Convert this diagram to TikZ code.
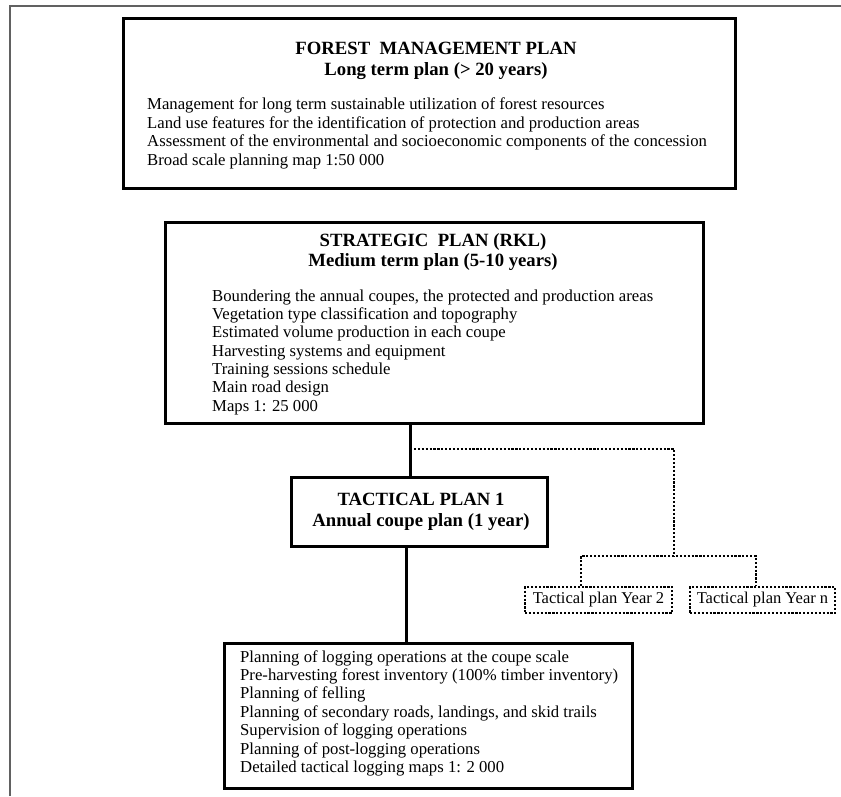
\documentclass[tikz,border=0pt]{standalone}
\usepackage{fontspec}
\setmainfont{Liberation Serif}
\begin{document}
\begin{tikzpicture}[x=1pt,y=-1pt,
  box/.style={draw, line width=3pt, inner sep=0pt},
  dotbox/.style={draw, line width=2.3pt, dash pattern=on 2.2pt off 1.7pt, inner sep=0pt,
    font=\fontsize{16.5}{18}\selectfont},
  conn/.style={line width=3pt},
  dotconn/.style={line width=2.3pt, dash pattern=on 2.2pt off 1.7pt},
  ttl/.style={anchor=base, inner sep=0pt},
  body/.style={font=\fontsize{16.7}{18.5}\selectfont, anchor=base west, inner sep=0pt},
  frame/.style={draw=black!62, line width=2pt}
]
\useasboundingbox (0,0) rectangle (841,796);
% outer frame
\coordinate (fa) at (10,796);
\coordinate (fb) at (10,6);
\coordinate (fc) at (841,6);
\draw[frame] (fa) -- (fb) -- (fc);

% boxes
\node[box, minimum width=612pt, minimum height=170pt] (fmp) at (429,103) {};
\node[box, minimum width=538pt, minimum height=201pt] (str) at (434,322.5) {};
\node[box, minimum width=256pt, minimum height=69pt] (tac) at (419,511.5) {};
\node[box, minimum width=408pt, minimum height=145pt] (log) at (428,715.5) {};
\node[dotbox, minimum width=147pt, minimum height=26pt] (y2) at (598.5,600) {Tactical plan Year 2};
\node[dotbox, minimum width=145pt, minimum height=26pt] (yn) at (762.5,600) {Tactical plan Year n};

% texts
\node[ttl] (fmpt) at (436,54.5) {\fontsize{18.7}{20.5}\selectfont\bfseries
  \begin{tabular}[t]{@{}c@{}}FOREST~~MANAGEMENT PLAN\\ Long term plan (> 20 years)\end{tabular}};
\node[body] (fmpb) at (147,109.5) {\begin{tabular}[t]{@{}l@{}}
Management for long term sustainable utilization of forest resources\\
Land use features for the identification of protection and production areas\\
Assessment of the environmental and socioeconomic components of the concession\\
Broad scale planning map 1:50 000\end{tabular}};

\node[ttl] (strt) at (433,246) {\fontsize{18.7}{20}\selectfont\bfseries
  \begin{tabular}[t]{@{}c@{}}STRATEGIC~~PLAN (RKL)\\ Medium term plan (5-10 years)\end{tabular}};
\node[body] (strb) at (212,301) {\fontsize{16.7}{18.35}\selectfont\begin{tabular}[t]{@{}l@{}}
Boundering the annual coupes, the protected and production areas\\
Vegetation type classification and topography\\
Estimated volume production in each coupe\\
Harvesting systems and equipment\\
Training sessions schedule\\
Main road design\\
Maps 1: 25 000\end{tabular}};

\node[ttl] (tact) at (421,505) {\fontsize{18.7}{21.5}\selectfont\bfseries
  \begin{tabular}[t]{@{}c@{}}TACTICAL PLAN 1\\ Annual coupe plan (1 year)\end{tabular}};

\node[body] (logb) at (240,662) {\fontsize{16.7}{18.4}\selectfont\begin{tabular}[t]{@{}l@{}}
Planning of logging operations at the coupe scale\\
Pre-harvesting forest inventory (100\% timber inventory)\\
Planning of felling\\
Planning of secondary roads, landings, and skid trails\\
Supervision of logging operations\\
Planning of post-logging operations\\
Detailed tactical logging maps 1: 2 000\end{tabular}};

% connectors
\coordinate (j1) at (410,449);
\coordinate (j2) at (674,449);
\coordinate (j3) at (674,556);
\coordinate (j4) at (581,556);
\coordinate (j5) at (756,556);
\coordinate (j6) at (406,600);
\draw[conn] (str.south -| j1) -- (tac.north -| j1);
\draw[conn] (tac.south -| j6) -- (log.north -| j6);
\draw[dotconn] (j1) -- (j2) -- (j3);
\draw[dotconn] (y2.north -| j4) -- (j4) -- (j5) -- (yn.north -| j5);
\end{tikzpicture}
\end{document}
